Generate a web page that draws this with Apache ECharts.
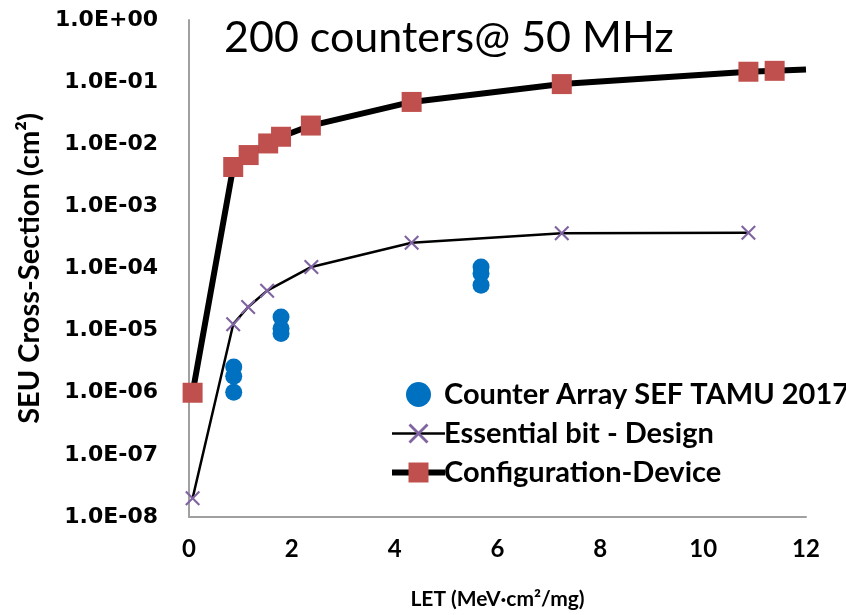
<!DOCTYPE html>
<html>
<head>
<meta charset="utf-8">
<title>SEU cross-section vs LET</title>
<script src="https://cdn.jsdelivr.net/npm/echarts/dist/echarts.min.js"></script>
<style>
  html, body { margin: 0; padding: 0; background: #fff; }
  #chart { width: 846px; height: 615px; }
</style>
</head>
<body>
<div id="chart"></div>
<script>
// values
const titleText = '200 counters@ 50 MHz'

const counterLet = [0.87, 0.87, 0.87, 1.79, 1.79, 1.79, 5.68, 5.68, 5.68]
const counterSigma = [2.6e-6, 1.85e-6, 1.02e-6, 1.66e-5, 1.08e-5, 9.0e-6, 1.06e-4, 8.3e-5, 5.4e-5]

const essentialLet = [0.07, 0.86, 1.15, 1.52, 2.38, 4.33, 7.25, 10.88]
const essentialSigma = [2.0e-8, 1.27e-5, 2.4e-5, 4.4e-5, 1.06e-4, 2.6e-4, 3.7e-4, 3.75e-4]

// last point only carries the line to the edge, no marker there
const configLet = [0.07, 0.86, 1.16, 1.54, 1.79, 2.37, 4.33, 7.25, 10.88, 11.39, 12]
const configSigma = [1.0e-6, 4.3e-3, 6.7e-3, 1.03e-2, 1.32e-2, 2.0e-2, 4.8e-2, 9.3e-2, 1.47e-1, 1.52e-1, 1.6e-1]

const xTicks = [0, 2, 4, 6, 8, 10, 12]

const seriesNames = ['Counter Array SEF TAMU 2017', 'Essential bit - Design', 'Configuration-Device']

const pairs = (xs, ys) => xs.map((x, i) => [x, ys[i]])

// 1e-6 -> 1.0E-06
const sciLabel = v => {
  const e = Math.round(Math.log10(v))
  const abs = Math.abs(e)
  return '1.0E' + (e < 0 ? '-' : '+') + (abs < 10 ? '0' : '') + abs
}

const crossPath = 'path://M0,1L1,0L5,4L9,0L10,1L6,5L10,9L9,10L5,6L1,10L0,9L4,5Z'

const chart = echarts.init(document.getElementById('chart'))

const configData = pairs(configLet, configSigma).map((p, i) =>
  i === configLet.length - 1 ? { value: p, symbol: 'none' } : p
)

const option = {
  animation: false,
  title: {
    text: titleText,
    left: 219,
    top: 12,
    textStyle: { fontFamily: 'Lato', fontWeight: 'normal', fontSize: 43, color: '#000' }
  },
  grid: { left: 189, right: 40, top: 20, bottom: 98, containLabel: false },
  legend: {
    orient: 'vertical',
    left: 384,
    top: 375,
    itemWidth: 53,
    itemHeight: 25,
    itemGap: 10,
    lineStyle: { width: 'inherit' },
    data: [
      { name: seriesNames[0] },
      { name: seriesNames[1], lineStyle: { width: 2.5 } },
      { name: seriesNames[2], lineStyle: { width: 6 } }
    ],
    textStyle: {
      fontFamily: 'Lato', fontWeight: 'bold', fontSize: 29, lineHeight: 25,
      color: '#000', padding: [0, 0, 0, -6]
    }
  },
  xAxis: {
    type: 'value',
    min: 0,
    max: 12,
    interval: 2,
    name: 'LET (MeV·cm²/mg)',
    nameLocation: 'middle',
    nameGap: 72,
    nameTextStyle: { fontFamily: 'Lato', fontWeight: 'bold', fontSize: 21, color: '#000' },
    axisLine: { lineStyle: { color: '#a0a0a0', width: 2 } },
    axisTick: { show: false },
    splitLine: { show: false },
    axisLabel: {
      margin: 20,
      fontFamily: 'Lato',
      fontWeight: 'bold',
      fontSize: 24,
      color: '#000',
      formatter: v => (xTicks.includes(v) ? String(v) : '')
    }
  },
  yAxis: {
    type: 'log',
    logBase: 10,
    min: 1e-8,
    max: 1,
    name: 'SEU Cross-Section (cm²)',
    nameLocation: 'middle',
    nameGap: 143,
    nameTextStyle: { fontFamily: 'Lato', fontWeight: 'bold', fontSize: 29, color: '#000' },
    axisLine: { show: true, lineStyle: { color: '#a0a0a0', width: 2 } },
    axisTick: { show: false },
    splitLine: { show: false },
    axisLabel: {
      margin: 31,
      fontFamily: 'DejaVu Sans',
      fontWeight: 'bold',
      fontSize: 22,
      color: '#000',
      formatter: sciLabel
    }
  },
  series: [
    {
      name: seriesNames[0],
      type: 'scatter',
      data: pairs(counterLet, counterSigma),
      symbol: 'circle',
      symbolSize: 17,
      itemStyle: { color: '#0070C0', opacity: 1 },
      z: 2
    },
    {
      name: seriesNames[1],
      type: 'line',
      data: pairs(essentialLet, essentialSigma),
      symbol: crossPath,
      symbolSize: 15,
      showAllSymbol: true,
      itemStyle: { color: '#8064A2' },
      lineStyle: { color: '#000', width: 2.5 },
      z: 3
    },
    {
      name: seriesNames[2],
      type: 'line',
      data: configData,
      symbol: 'rect',
      symbolSize: 20,
      showAllSymbol: true,
      itemStyle: { color: '#C0504D' },
      lineStyle: { color: '#000', width: 6 },
      z: 4
    }
  ]
}

chart.setOption(option)
</script>
</body>
</html>
